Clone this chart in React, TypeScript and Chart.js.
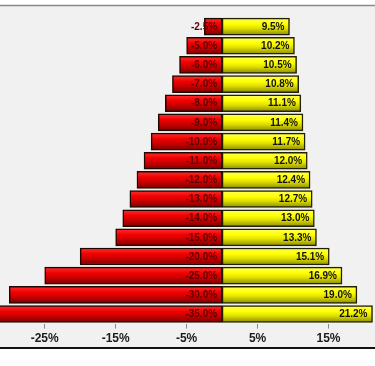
import React, { useEffect, useRef } from "react";
import { Chart, registerables } from "chart.js";

Chart.register(...registerables);

const categories = ["r1","r2","r3","r4","r5","r6","r7","r8","r9","r10","r11","r12","r13","r14","r15","r16"];
const negativeValues = [-2.5,-5,-6,-7,-8,-9,-10,-11,-12,-13,-14,-15,-20,-25,-30,-35];
const positiveValues = [9.5,10.2,10.5,10.8,11.1,11.4,11.7,12.0,12.4,12.7,13.0,13.3,15.1,16.9,19.0,21.2];
const tickValues = [-25,-15,-5,5,15];

const BAR_H = 17;

function gradientFor(ctx: any, stops: [number, string][]) {
  const chart = ctx.chart;
  const yScale = chart.scales?.y;
  if (!yScale || !chart.chartArea) return stops[1][1];
  const yc = yScale.getPixelForValue(ctx.dataIndex);
  const g = chart.ctx.createLinearGradient(0, yc - BAR_H / 2, 0, yc + BAR_H / 2);
  stops.forEach(([o, c]) => g.addColorStop(o, c));
  return g;
}

const redStops: [number, string][] = [[0, "#ff3030"], [0.35, "#f00000"], [0.6, "#cc0000"], [1, "#7a0000"]];
const yellowStops: [number, string][] = [[0, "#ffff60"], [0.35, "#ffff00"], [0.6, "#e0e000"], [1, "#8a8a00"]];

const framePlugin = {
  id: "frame",
  beforeDraw(chart: any) {
    const { ctx, width, height } = chart;
    ctx.save();
    ctx.fillStyle = "#ffffff";
    ctx.fillRect(0, 0, width, height);
    ctx.fillStyle = "#f1f1f1";
    ctx.fillRect(0, 6, width, 341);
    ctx.strokeStyle = "#8a8a8a";
    ctx.lineWidth = 1.5;
    ctx.beginPath();
    ctx.moveTo(0, 5.5);
    ctx.lineTo(width, 5.5);
    ctx.stroke();
    ctx.strokeStyle = "#111111";
    ctx.lineWidth = 2;
    ctx.beginPath();
    ctx.moveTo(0, 348);
    ctx.lineTo(width, 348);
    ctx.stroke();
    ctx.restore();
  },
};

const labelPlugin = {
  id: "barLabels",
  afterDatasetsDraw(chart: any) {
    const { ctx } = chart;
    ctx.save();
    ctx.font = "bold 10px Arial, 'Liberation Sans', sans-serif";
    ctx.textAlign = "right";
    ctx.textBaseline = "middle";
    chart.data.datasets.forEach((ds: any, di: number) => {
      const meta = chart.getDatasetMeta(di);
      meta.data.forEach((el: any, i: number) => {
        const v = ds.data[i] as number;
        const txt = v.toFixed(1) + "%";
        if (di === 0) {
          ctx.fillStyle = "#5a0000";
          ctx.fillText(txt, el.base - 5, el.y + 0.5);
        } else {
          ctx.fillStyle = "#111111";
          ctx.fillText(txt, el.x - 5, el.y + 0.5);
        }
      });
    });
    ctx.restore();
  },
};

export default function App() {
  const ref = useRef<HTMLCanvasElement>(null);
  useEffect(() => {
    if (!ref.current) return;
    const chart = new Chart(ref.current, {
      type: "bar",
      data: {
        labels: categories,
        datasets: [
          {
            data: negativeValues,
            backgroundColor: (c: any) => gradientFor(c, redStops),
            borderColor: "#1e0800",
            borderWidth: 1.5,
            borderSkipped: false,
            barThickness: BAR_H,
          },
          {
            data: positiveValues,
            backgroundColor: (c: any) => gradientFor(c, yellowStops),
            borderColor: "#222200",
            borderWidth: 1.5,
            borderSkipped: false,
            barThickness: BAR_H,
          },
        ],
      },
      options: {
        indexAxis: "y",
        animation: false,
        responsive: false,
        maintainAspectRatio: false,
        layout: { padding: { top: 17, bottom: 17, left: 0, right: 0 } },
        plugins: { legend: { display: false }, tooltip: { enabled: false }, title: { display: false } },
        scales: {
          x: {
            stacked: true,
            min: -31.3,
            max: 21.55,
            afterBuildTicks: (axis: any) => {
              axis.ticks = tickValues.map((v) => ({ value: v }));
            },
            ticks: {
              callback: (v: any) => v + "%",
              color: "#1a1a1a",
              font: { family: "Arial, 'Liberation Sans', sans-serif", size: 12, weight: "bold" },
              padding: 3,
              maxRotation: 0,
              autoSkip: false,
            },
            grid: { drawOnChartArea: false, drawTicks: true, tickLength: 5, color: "#8a8a8a" },
            border: { display: false },
          },
          y: {
            stacked: true,
            display: false,
          },
        },
      },
      plugins: [framePlugin, labelPlugin],
    });
    return () => chart.destroy();
  }, []);
  return (
    <div style={{ position: "fixed", left: 0, top: 0, width: 375, height: 366 }}>
      <canvas ref={ref} width={375} height={366} style={{ width: 375, height: 366, display: "block" }} />
    </div>
  );
}
